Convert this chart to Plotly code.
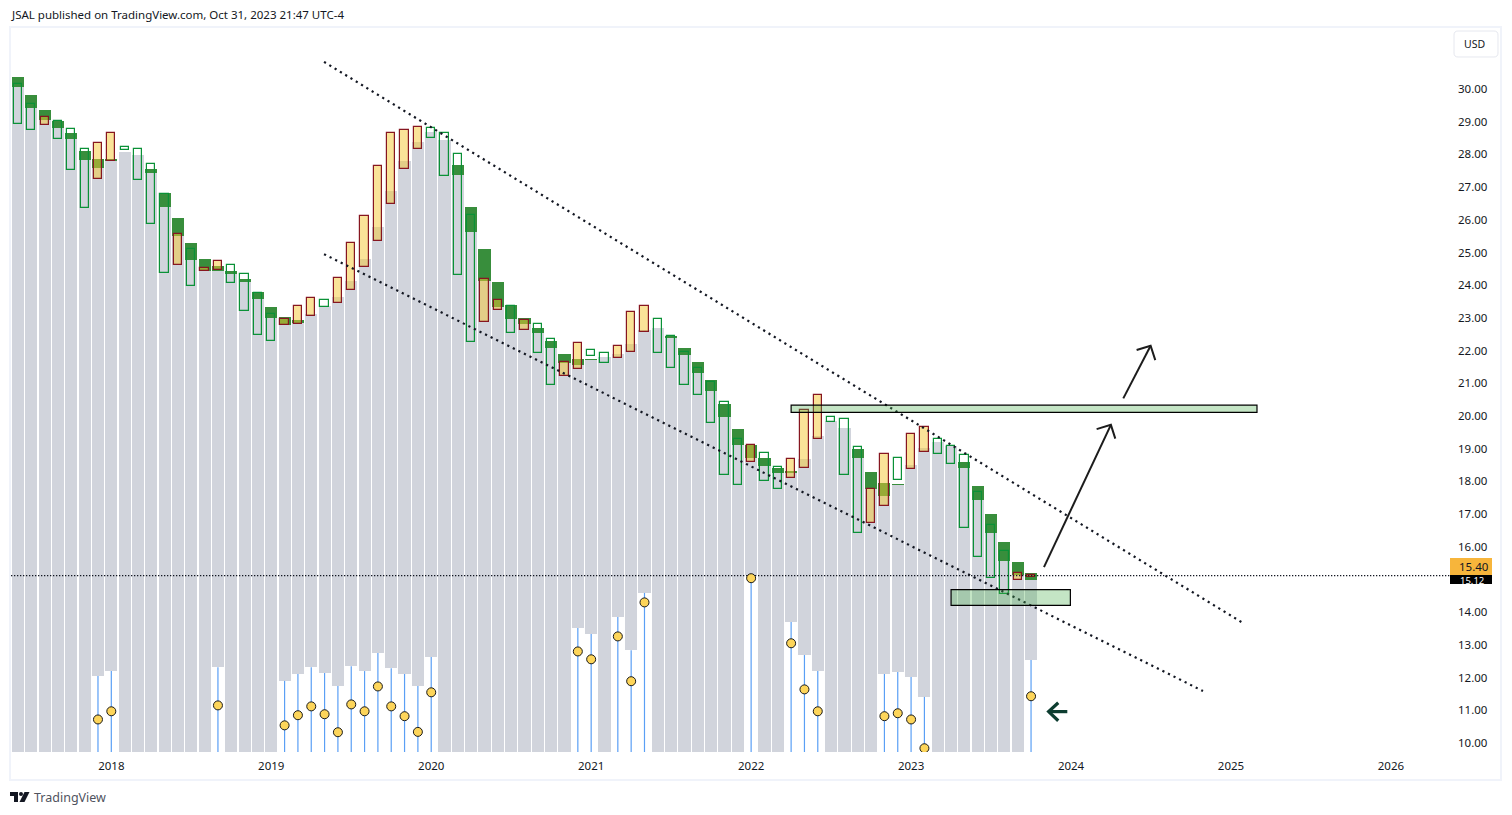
import numpy as np
import plotly.graph_objects as go

# monthly bars, Jun 2017 .. Oct 2023
months = list(range(77))

# top of the grey column (= bottom of the green block when there is one)
grey_top = [30.06, 29.43, 29.05, 28.82, 28.48, 27.83, 27.59, 27.80, 28.07, 27.98, 27.44, 26.40, 25.51, 24.77, 24.43, 24.44,
            24.37, 24.10, 23.59, 23.00, 22.78, 22.83, 23.11, 23.36, 23.65, 24.13, 24.80, 25.79, 26.88, 27.80, 28.38, 28.69,
            28.44, 27.38, 25.64, 24.13, 23.34, 22.98, 22.81, 22.55, 22.09, 21.63, 21.57, 21.72, 21.81, 21.90, 22.20, 22.63,
            22.69, 22.39, 21.87, 21.32, 20.76, 19.98, 19.12, 18.72, 18.47, 18.27, 18.26, 18.69, 19.39, 19.85, 19.63, 18.72,
            17.77, 17.55, 17.90, 18.50, 19.02, 19.20, 19.09, 18.42, 17.43, 16.43, 15.57, 15.13, 14.99]
# top of the green block, None = no block
block_top = [30.37, 29.82, 29.36, 29.02, 28.65, 28.10, 27.86, 27.86, None, None, 27.55, 26.82, 26.06, 25.29, 24.80, 24.59,
             24.43, 24.19, 23.79, 23.33, 23.03, 22.94, None, None, None, None, None, None, None, None, None, None,
             None, 27.68, 26.39, 25.11, 24.10, 23.39, 23.00, 22.69, 22.29, 21.90, 21.74, 21.74, None, None, None, None,
             None, 22.42, 22.08, 21.65, 21.10, 20.37, 19.60, 19.11, 18.72, 18.42, 18.32, None, None, None, None, 18.99,
             18.29, 17.95, 17.92, None, None, None, None, 18.59, 17.86, 17.00, 16.15, 15.54, 15.20]
candle_top = [30.14, 29.53, 29.13, 29.01, 28.77, 28.16, 28.34, 28.65, 28.22, 28.16, 27.70, 26.78, 25.56, 25.10, 24.52, 24.73,
              24.61, 24.33, 23.75, 23.11, 22.96, 23.35, 23.60, 23.54, 24.21, 25.28, 26.11, 27.64, 28.65, 28.74, 28.83, 28.80,
              28.65, 28.00, 26.14, 24.18, 23.54, 23.37, 22.94, 22.80, 22.35, 21.64, 22.22, 22.01, 21.92, 22.13, 23.17, 23.35,
              22.96, 22.44, 21.95, 21.46, 21.03, 20.42, 19.30, 19.10, 18.86, 18.43, 18.68, 20.17, 20.63, 19.96, 19.90, 19.04,
              17.76, 18.83, 18.71, 19.44, 19.65, 19.29, 19.07, 18.80, 17.67, 16.66, 15.86, 15.19, 15.13]
candle_bot = [28.92, 28.74, 28.89, 28.48, 27.51, 26.35, 27.24, 27.79, 28.13, 27.21, 25.86, 24.36, 24.61, 23.97, 24.42, 24.46,
              24.06, 23.20, 22.48, 22.29, 22.78, 22.82, 23.07, 23.34, 23.45, 23.84, 24.55, 25.34, 26.47, 27.54, 28.16, 28.49,
              27.33, 24.30, 22.25, 22.87, 23.23, 22.53, 22.62, 21.92, 20.94, 21.21, 21.43, 21.83, 21.61, 21.76, 21.95, 22.56,
              21.92, 21.46, 20.94, 20.63, 19.78, 18.19, 17.88, 18.58, 18.00, 17.76, 18.09, 18.40, 19.29, 19.81, 18.19, 16.43,
              16.74, 17.24, 18.03, 18.37, 18.89, 18.83, 18.52, 16.57, 15.68, 15.04, 14.55, 14.98, 15.09]
# bars drawn red outline / yellow body, all the others green outline
up_bars = [2, 6, 7, 12, 14, 15, 20, 21, 22, 24, 25, 26, 27, 28, 29, 30, 35, 36, 38, 41, 42, 45, 46, 47, 55, 58, 59, 60,
           64, 65, 67, 68, 75, 76]

# bars where the grey column stops early, with the yellow dot below it
dot_bars = [6, 7, 15, 20, 21, 22, 23, 24, 25, 26, 27, 28, 29, 30, 31, 42, 43, 45, 46, 47, 55, 58, 59, 60, 65, 66, 67, 68, 76]
grey_bottom = [12.05, 12.20, 12.32, 11.90, 12.11, 12.32, 12.14, 11.74, 12.35, 12.20, 12.75, 12.29, 12.11, 11.74, 12.63,
               13.52, 13.33, 13.85, 12.84, 14.59, 15.14, 13.70, 12.69, 12.20, 12.11, 12.17, 12.02, 11.41, 12.54]
dot_price = [10.72, 10.97, 11.15, 10.54, 10.85, 11.12, 10.88, 10.33, 11.18, 10.97, 11.73, 11.12, 10.82, 10.34, 11.55,
             12.80, 12.56, 13.26, 11.89, 14.30, 15.04, 13.05, 11.64, 10.97, 10.82, 10.91, 10.72, 9.84, 11.43]

year_ticks = [7, 19, 31, 43, 55, 67, 79, 91, 103]
year_labels = ["2018", "2019", "2020", "2021", "2022", "2023", "2024", "2025", "2026"]
# 15.00 sits behind the last price labels, so it is not drawn
price_ticks = [10, 11, 12, 13, 14, 16, 17, 18, 19, 20, 21, 22, 23, 24, 25, 26, 27, 28, 29, 30]
price_labels = ["%.2f" % p for p in price_ticks]

last_close = 15.12
last_price = 15.40

# drawings
upper_trend_x = [22.96, 91.9]
upper_trend_y = [30.83, 13.67]
lower_trend_x = [22.96, 88.9]
lower_trend_y = [24.95, 11.59]
arrow1_x = [76.97, 81.99, None, 80.92, 81.99, 82.32]
arrow1_y = [15.38, 19.73, None, 19.60, 19.73, 19.31]
arrow2_x = [82.92, 84.97, None, 83.92, 84.97, 85.32]
arrow2_y = [20.54, 22.15, None, 22.02, 22.15, 21.71]
back_arrow_x = [78.72, 77.32, None, 78.04, 77.32, 78.04]
back_arrow_y = [10.96, 10.96, None, 11.23, 10.96, 10.68]

W, H = 1512, 815
L, R, T, B = 11, 1450, 28, 752
x_range = [-0.525, 107.43]
y_range = [9.725, 31.866]
GREY = "#d1d4dc"
TXT = "#131722"
FONT = "Noto Sans"


def px(x):
    return (x - L) / (R - L)


def py(y):
    return (B - y) / (B - T)


grey_low = np.full(len(months), y_range[0])
grey_low[dot_bars] = grey_bottom
grey_top = np.array(grey_top)
candle_top = np.array(candle_top)
candle_bot = np.array(candle_bot)
has_block = [i for i in months if block_top[i] is not None]
down_bars = [i for i in months if i not in up_bars]

# blue stems, one segment per dot bar
stem_x, stem_y = [], []
for b, g in zip(dot_bars, grey_bottom):
    stem_x += [b, b, None]
    stem_y += [g, y_range[0], None]

fig = go.Figure()
fig.add_bar(x=months, y=grey_top - grey_low, base=grey_low, width=0.91, marker=dict(color=GREY, line_width=0))
fig.add_bar(x=has_block, y=[block_top[i] - grey_top[i] for i in has_block], base=grey_top[has_block], width=0.91,
            marker=dict(color="#388e3c", line_width=0))
fig.add_bar(x=down_bars, y=candle_top[down_bars] - candle_bot[down_bars], base=candle_bot[down_bars], width=0.62,
            marker=dict(color="rgba(0,0,0,0)", line=dict(color="#0a9137", width=1.2)))
fig.add_bar(x=up_bars, y=candle_top[up_bars] - candle_bot[up_bars], base=candle_bot[up_bars], width=0.62,
            marker=dict(color="rgba(245,200,50,0.5)", line=dict(color="#861620", width=1.2)))

fig.add_scatter(x=stem_x, y=stem_y, mode="lines", line=dict(color="#5a9ff5", width=1.2))
fig.add_scatter(x=x_range, y=[last_close, last_close], mode="lines", line=dict(color="#131722", width=1.3, dash="1.3px,1.7px"))
fig.add_scatter(x=upper_trend_x, y=upper_trend_y, mode="lines", line=dict(color="#131722", width=2.2, dash="2.2px,4px"))
fig.add_scatter(x=lower_trend_x, y=lower_trend_y, mode="lines", line=dict(color="#131722", width=2.2, dash="2.2px,4px"))
fig.add_scatter(x=arrow1_x, y=arrow1_y, mode="lines", line=dict(color="#1c1c1c", width=2))
fig.add_scatter(x=arrow2_x, y=arrow2_y, mode="lines", line=dict(color="#1c1c1c", width=2))
fig.add_scatter(x=back_arrow_x, y=back_arrow_y, mode="lines", line=dict(color="#0d3d30", width=3.2))
fig.add_scatter(x=dot_bars, y=dot_price, mode="markers",
                marker=dict(color="#fdd55a", size=9, line=dict(color="#1a1a1a", width=1)))

shapes = [
    # chart frame
    dict(type="rect", xref="paper", yref="paper", x0=px(10), x1=px(1501), y0=py(780), y1=py(27),
         line=dict(color="#f0f3fa", width=2), layer="below"),
    # support / resistance zones
    dict(type="rect", x0=58.0, x1=92.95, y0=20.11, y1=20.33, fillcolor="rgba(76,175,80,0.33)",
         line=dict(color="#000000", width=1.2)),
    dict(type="rect", x0=70.0, x1=78.95, y0=14.21, y1=14.69, fillcolor="rgba(76,175,80,0.33)",
         line=dict(color="#000000", width=1.2)),
    # last price labels
    dict(type="rect", xref="paper", yref="paper", x0=px(1450), x1=px(1492), y0=py(584), y1=py(566),
         fillcolor="#000000", line_width=0),
    dict(type="rect", xref="paper", yref="paper", x0=px(1450), x1=px(1492), y0=py(575), y1=py(558),
         fillcolor="#f7b53b", line_width=0),
    # USD button
    dict(type="path", xref="paper", yref="paper",
         path="M %f %f L %f %f Q %f %f %f %f L %f %f Q %f %f %f %f L %f %f Q %f %f %f %f L %f %f Q %f %f %f %f Z" % (
             px(1458), py(31), px(1494), py(31), px(1498), py(31), px(1498), py(35),
             px(1498), py(53), px(1498), py(57), px(1494), py(57),
             px(1458), py(57), px(1454), py(57), px(1454), py(53),
             px(1454), py(35), px(1454), py(31), px(1458), py(31)),
         line=dict(color="#e6e8ef", width=1), fillcolor="#ffffff"),
    # TradingView mark
    dict(type="path", xref="paper", yref="paper", fillcolor="#131722", line_width=0,
         path="M %f %f L %f %f L %f %f L %f %f L %f %f L %f %f Z" % (
             px(10), py(792), px(18), py(792), px(18), py(802), px(14), py(802), px(14), py(796), px(10), py(796))),
    dict(type="circle", xref="paper", yref="paper", fillcolor="#131722", line_width=0,
         x0=px(19), x1=px(23), y0=py(796), y1=py(792)),
    dict(type="path", xref="paper", yref="paper", fillcolor="#131722", line_width=0,
         path="M %f %f L %f %f L %f %f L %f %f Z" % (
             px(24.5), py(792), px(29.5), py(792), px(24.5), py(802), px(19.5), py(802))),
]

annotations = [
    dict(x=px(10), y=py(14.5), text="JSAL published on TradingView.com, Oct 31, 2023 21:47 UTC-4",
         font=dict(size=11.5, color=TXT)),
    dict(x=px(33), y=py(797), text="TradingView", font=dict(size=12.5, color="#50535e")),
    dict(x=px(1463), y=py(44), text="USD", font=dict(size=10.5, color=TXT)),
    dict(x=px(1459), y=py(580.5), text="%.2f" % last_close, font=dict(size=9.5, color="#ffffff")),
    dict(x=px(1458), y=py(566), text="%.2f" % last_price, font=dict(size=11.5, color=TXT)),
]
for a in annotations:
    a.update(xref="paper", yref="paper", xanchor="left", yanchor="middle", showarrow=False, borderpad=0)

fig.update_layout(
    width=W, height=H, autosize=False,
    margin=dict(l=L, r=W - R, t=T, b=H - B, pad=0),
    paper_bgcolor="#ffffff", plot_bgcolor="#ffffff",
    barmode="overlay", bargap=0, showlegend=False,
    font=dict(family=FONT, color=TXT, size=11.5),
    shapes=shapes, annotations=annotations,
    xaxis=dict(range=x_range, tickvals=year_ticks, ticktext=year_labels, showgrid=False, zeroline=False, showline=False,
               ticks="", ticklabelstandoff=5),
    yaxis=dict(range=y_range, side="right", tickvals=price_ticks, ticktext=price_labels, showgrid=False, zeroline=False,
               showline=False, ticks="", ticklabelstandoff=7),
)
fig.write_html("out.html", config=dict(displayModeBar=False), post_script="document.body.style.margin='0';")
